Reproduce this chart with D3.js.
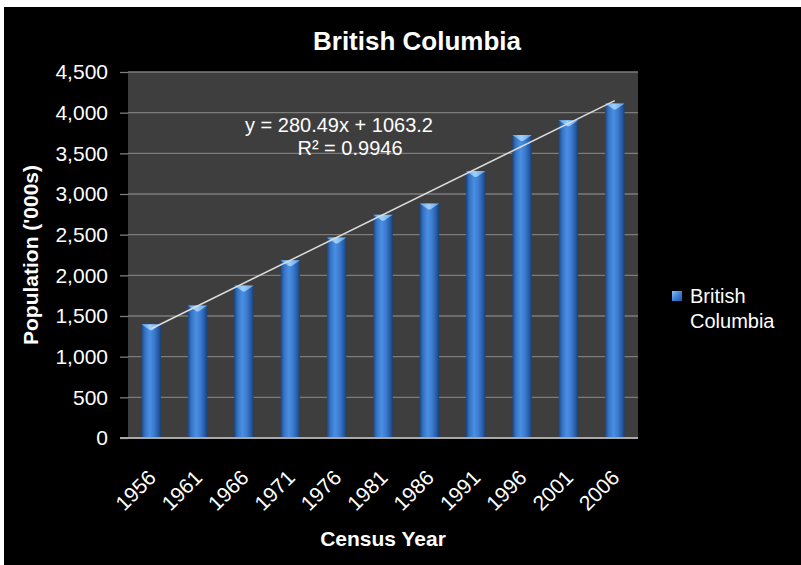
<!DOCTYPE html>
<html>
<head>
<meta charset="utf-8">
<script src="https://cdn.jsdelivr.net/npm/d3@7"></script>
<style>
  html, body { margin: 0; padding: 0; background: #ffffff; }
  svg { display: block; }
  text { font-family: "Liberation Sans", Arial, sans-serif; fill: #ffffff; }
</style>
</head>
<body>
<svg id="chart" width="801" height="565"></svg>
<script>
// Census years and British Columbia population (thousands)
const years = ["1956", "1961", "1966", "1971", "1976", "1981", "1986", "1991", "1996", "2001", "2006"];
const population = [1398.5, 1629.1, 1873.7, 2184.6, 2466.6, 2744.5, 2883.4, 3282.1, 3724.5, 3907.7, 4113.5];
const yTicks = [0, 500, 1000, 1500, 2000, 2500, 3000, 3500, 4000, 4500];

// Linear trendline fitted over category index (1..n)
const trendSlope = 280.49;
const trendIntercept = 1063.2;
const trendLabel = ["y = 280.49x + 1063.2", "R\u00B2 = 0.9946"];

const chartTitle = "British Columbia";
const xTitle = "Census Year";
const yTitle = "Population ('000s)";
const seriesName = ["British", "Columbia"];

const svg = d3.select("#chart");
const W = 801, H = 565;
const plot = { left: 128, right: 638, top: 72, bottom: 438 };

const defs = svg.append("defs");
const barGrad = defs.append("linearGradient").attr("id", "barGrad")
  .attr("x1", "0%").attr("x2", "100%").attr("y1", "0%").attr("y2", "0%");
[["0%", "#1c4680"], ["18%", "#3573c4"], ["42%", "#4a8fe2"], ["65%", "#3b7bd0"], ["88%", "#2558a0"], ["100%", "#1a3f74"]]
  .forEach(([o, c]) => barGrad.append("stop").attr("offset", o).attr("stop-color", c));
const capGrad = defs.append("linearGradient").attr("id", "capGrad")
  .attr("x1", "0%").attr("x2", "100%").attr("y1", "0%").attr("y2", "0%");
[["0%", "#5d9ee6"], ["45%", "#9fd0fa"], ["100%", "#5f9fe4"]]
  .forEach(([o, c]) => capGrad.append("stop").attr("offset", o).attr("stop-color", c));
const swGrad = defs.append("linearGradient").attr("id", "swGrad")
  .attr("x1", "0%").attr("x2", "100%").attr("y1", "0%").attr("y2", "100%");
[["0%", "#8cc2f5"], ["50%", "#3f83d8"], ["100%", "#24579e"]]
  .forEach(([o, c]) => swGrad.append("stop").attr("offset", o).attr("stop-color", c));

// Chart background
svg.append("rect").attr("x", 4).attr("y", 7).attr("width", W - 4).attr("height", H - 7).attr("fill", "#000000");

// Scales
const x = d3.scaleBand().domain(years).range([plot.left, plot.right]).paddingInner(0.58).paddingOuter(0.29);
const y = d3.scaleLinear().domain([0, 4500]).range([plot.bottom, plot.top]);

// Plot area
svg.append("rect").attr("x", plot.left).attr("y", plot.top)
  .attr("width", plot.right - plot.left).attr("height", plot.bottom - plot.top)
  .attr("fill", "#3e3e3e");

// Y axis with gridlines
const yAxis = svg.append("g").attr("transform", `translate(${plot.left},0)`)
  .call(d3.axisLeft(y).tickValues(yTicks).tickFormat(d3.format(",")).tickSize(8).tickPadding(12));
yAxis.select(".domain").remove();
yAxis.selectAll(".tick line").attr("stroke", "#7c7c7c").attr("stroke-width", 1.3);
yAxis.selectAll(".tick text").attr("font-size", 21).attr("fill", "#ffffff")
  .attr("font-family", "Liberation Sans, Arial, sans-serif");

svg.append("g").selectAll("line").data(yTicks.filter(d => d > 0)).join("line")
  .attr("x1", plot.left).attr("x2", plot.right)
  .attr("y1", d => y(d)).attr("y2", d => y(d))
  .attr("stroke", "#7c7c7c").attr("stroke-width", 1.3);

// Bars: cylinder-style columns with a light cap
const bars = svg.append("g");
bars.selectAll("rect").data(population).join("rect")
  .attr("x", (d, i) => x(years[i]))
  .attr("y", d => y(d))
  .attr("width", x.bandwidth())
  .attr("height", d => y(0) - y(d))
  .attr("fill", "url(#barGrad)");
bars.selectAll("path").data(population).join("path")
  .attr("d", (d, i) => {
    const x0 = x(years[i]), w = x.bandwidth(), t = y(d);
    return `M${x0},${t} L${x0 + w},${t} L${x0 + w * 0.55},${t + 6} L${x0 + w * 0.45},${t + 6} Z`;
  })
  .attr("fill", "url(#capGrad)");

// X axis
const xAxis = svg.append("g").attr("transform", `translate(0,${plot.bottom})`)
  .call(d3.axisBottom(x).tickSize(0).tickPadding(0));
xAxis.select(".domain").remove();
xAxis.selectAll(".tick text")
  .attr("font-size", 21).attr("fill", "#ffffff")
  .attr("font-family", "Liberation Sans, Arial, sans-serif")
  .attr("text-anchor", "end").attr("x", 0).attr("y", 0).attr("dy", 0)
  .attr("transform", "translate(6,41) rotate(-45)");
svg.append("line").attr("x1", plot.left - 8).attr("x2", plot.right)
  .attr("y1", plot.bottom).attr("y2", plot.bottom)
  .attr("stroke", "#a9a9a9").attr("stroke-width", 2);

// Trendline
const trendPts = [1, years.length].map(k => [x(years[k - 1]) + x.bandwidth() / 2, y(trendSlope * k + trendIntercept)]);
svg.append("line")
  .attr("x1", trendPts[0][0]).attr("y1", trendPts[0][1])
  .attr("x2", trendPts[1][0]).attr("y2", trendPts[1][1])
  .attr("stroke", "#dcdcdc").attr("stroke-width", 1.5);

svg.append("text").attr("x", 339).attr("y", 132).attr("text-anchor", "middle")
  .attr("font-size", 20).text(trendLabel[0]);
svg.append("text").attr("x", 350).attr("y", 155).attr("text-anchor", "middle")
  .attr("font-size", 20).text(trendLabel[1]);

// Titles
svg.append("text").attr("x", 417).attr("y", 50).attr("text-anchor", "middle")
  .attr("font-size", 26).attr("font-weight", "bold").text(chartTitle);
svg.append("text").attr("x", 383).attr("y", 546).attr("text-anchor", "middle")
  .attr("font-size", 21).attr("font-weight", "bold").text(xTitle);
svg.append("text").attr("transform", "translate(38,255) rotate(-90)").attr("text-anchor", "middle")
  .attr("font-size", 21).attr("font-weight", "bold").text(yTitle);

// Legend
svg.append("rect").attr("x", 672).attr("y", 291).attr("width", 10).attr("height", 10).attr("fill", "url(#swGrad)");
svg.append("text").attr("x", 690).attr("y", 303).attr("font-size", 20).text(seriesName[0]);
svg.append("text").attr("x", 690).attr("y", 328).attr("font-size", 20).text(seriesName[1]);
</script>
</body>
</html>
